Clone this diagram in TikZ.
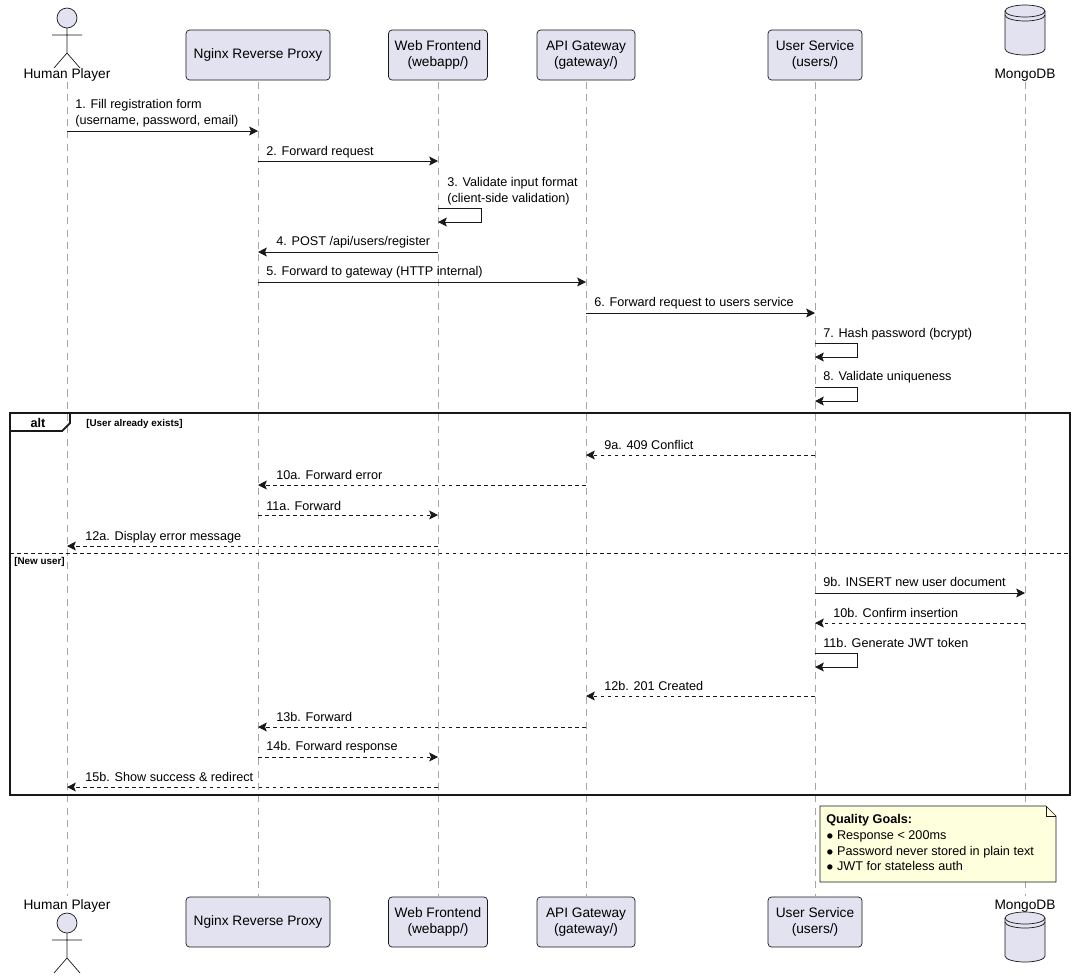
\documentclass[tikz,border=0pt]{standalone}
\usepackage{fontspec}
\setmainfont{Liberation Sans}
\usetikzlibrary{arrows.meta,shapes.geometric,shapes.misc,calc}
\definecolor{partfill}{HTML}{E2E2F0}
\definecolor{partline}{HTML}{181818}
\definecolor{notefill}{HTML}{FEFFDD}
\tikzset{
    tsPart/.style={rectangle, rounded corners=2pt, draw=partline, fill=partfill,
        minimum height=1cm, align=center, font=\fontsize{7.8}{9.5}\selectfont, inner sep=0pt},
    tsLabel/.style={anchor=west, inner sep=0pt, align=left, font=\fontsize{7.2}{9}\selectfont},
    tsSync/.style={draw=partline, -{Stealth[length=5pt,width=5pt,inset=1pt]}},
    tsReply/.style={tsSync, dash pattern=on 2pt off 2pt},
    tsLife/.style={draw=gray!70, dash pattern=on 4pt off 3pt}
}
\newcommand{\actorfig}[2]{%
  \draw[partline, fill=partfill] (#1,#2) circle[radius=0.2cm];
  \draw[partline] (#1,#2+10) -- (#1,#2+35) (#1-15,#2+17) -- (#1+15,#2+17)
     (#1-13,#2+50) -- (#1,#2+35) -- (#1+13,#2+50);}
\newcommand{\dbfig}[2]{%
  \draw[partline, fill=partfill] (#1-20,#2+6) -- (#1-20,#2+44) arc[start angle=180,end angle=360,x radius=0.4cm,y radius=0.12cm]
     -- (#1+20,#2+6) arc[start angle=0,end angle=180,x radius=0.4cm,y radius=0.12cm] -- cycle;
  \draw[partline] (#1-20,#2+6) arc[start angle=180,end angle=360,x radius=0.4cm,y radius=0.12cm]
     (#1-20,#2+10) arc[start angle=180,end angle=360,x radius=0.4cm,y radius=0.12cm];}
\begin{document}
\begin{tikzpicture}[x=0.02cm, y=-0.02cm]
    \useasboundingbox[fill=white] (0,0) rectangle (1075,978);

    % lifelines
    \foreach \lx in {67,258,438,586,815,1025}
        \draw[tsLife] (\lx,82) -- (\lx,896);

    % participants, top and bottom
    \foreach \pos/\suffix in {55/top,922/bot} {
        \node[tsPart, minimum width=2.88cm] (nginx\suffix) at (258,\pos) {Nginx Reverse Proxy};
        \node[tsPart, minimum width=1.98cm] (web\suffix) at (438,\pos) {Web Frontend\\(webapp/)};
        \node[tsPart, minimum width=1.96cm] (api\suffix) at (586,\pos) {API Gateway\\(gateway/)};
        \node[tsPart, minimum width=1.88cm] (user\suffix) at (815,\pos) {User Service\\(users/)};
    }
    \actorfig{67}{18}
    \node[tsLabel, anchor=center, font=\fontsize{7.8}{9.5}\selectfont] (humantop) at (67,75) {Human Player};
    \node[tsLabel, anchor=center, font=\fontsize{7.8}{9.5}\selectfont] (humanbot) at (67,906) {Human Player};
    \actorfig{67}{923}
    \dbfig{1025}{5}
    \node[tsLabel, anchor=center, font=\fontsize{7.8}{9.5}\selectfont] (mongotop) at (1025,75) {MongoDB};
    \node[tsLabel, anchor=center, font=\fontsize{7.8}{9.5}\selectfont] (mongobot) at (1025,906) {MongoDB};
    \dbfig{1025}{912}

    % lifeline anchors
    \coordinate (human) at (67,0);
    \coordinate (nginx) at (258,0);
    \coordinate (web) at (438,0);
    \coordinate (api) at (586,0);
    \coordinate (user) at (815,0);
    \coordinate (mongo) at (1025,0);

    % registration request
    \draw[tsSync] (human|-0,131) -- (nginx|-0,131);
    \node[tsLabel] (m1) at (75,113) {1. Fill registration form\\(username, password, email)};
    \draw[tsSync] (nginx|-0,161) -- (web|-0,161);
    \node[tsLabel] (m2) at (266,152) {2. Forward request};
    \draw[tsSync] (web|-0,208) -- (481,208) -- (481,222) -- (web|-0,222);
    \node[tsLabel] (m3) at (447,191) {3. Validate input format\\(client-side validation)};
    \draw[tsSync] (web|-0,252) -- (nginx|-0,252);
    \node[tsLabel] (m4) at (276,242) {4. POST /api/users/register};
    \draw[tsSync] (nginx|-0,282) -- (api|-0,282);
    \node[tsLabel] (m5) at (266,272) {5. Forward to gateway (HTTP internal)};
    \draw[tsSync] (api|-0,313) -- (user|-0,313);
    \node[tsLabel] (m6) at (594,303) {6. Forward request to users service};
    \draw[tsSync] (user|-0,343) -- (857,343) -- (857,357) -- (user|-0,357);
    \node[tsLabel] (m7) at (823,334) {7. Hash password (bcrypt)};
    \draw[tsSync] (user|-0,387) -- (857,387) -- (857,401) -- (user|-0,401);
    \node[tsLabel] (m8) at (823,377) {8. Validate uniqueness};

    % alt frame
    \draw[partline, line width=1.2pt] (10,413) rectangle (1070,795);
    \draw[partline, line width=1pt] (10,431) -- (62,431) -- (70,423) -- (70,413);
    \node[font=\bfseries\fontsize{7.2}{9}\selectfont, inner sep=0pt] (alttag) at (38,423) {alt};
    \node[tsLabel, font=\bfseries\fontsize{5.6}{7}\selectfont] (guard1) at (86,424) {[User already exists]};
    \draw[partline, dash pattern=on 2pt off 2pt] (10,553) -- (1070,553);
    \node[tsLabel, font=\bfseries\fontsize{5.6}{7}\selectfont] (guard2) at (14,562) {[New user]};

    % user already exists
    \draw[tsReply] (user|-0,455) -- (api|-0,455);
    \node[tsLabel] (m9a) at (604,445) {9a. 409 Conflict};
    \draw[tsReply] (api|-0,485) -- (nginx|-0,485);
    \node[tsLabel] (m10a) at (276,475) {10a. Forward error};
    \draw[tsReply] (nginx|-0,515) -- (web|-0,515);
    \node[tsLabel] (m11a) at (266,506) {11a. Forward};
    \draw[tsReply] (web|-0,546) -- (human|-0,546);
    \node[tsLabel] (m12a) at (85,537) {12a. Display error message};

    % new user
    \draw[tsSync] (user|-0,593) -- (mongo|-0,593);
    \node[tsLabel] (m9b) at (823,582) {9b. INSERT new user document};
    \draw[tsReply] (mongo|-0,623) -- (user|-0,623);
    \node[tsLabel] (m10b) at (833,613) {10b. Confirm insertion};
    \draw[tsSync] (user|-0,653) -- (857,653) -- (857,667) -- (user|-0,667);
    \node[tsLabel] (m11b) at (823,643) {11b. Generate JWT token};
    \draw[tsReply] (user|-0,696) -- (api|-0,696);
    \node[tsLabel] (m12b) at (604,686) {12b. 201 Created};
    \draw[tsReply] (api|-0,727) -- (nginx|-0,727);
    \node[tsLabel] (m13b) at (276,717) {13b. Forward};
    \draw[tsReply] (nginx|-0,757) -- (web|-0,757);
    \node[tsLabel] (m14b) at (266,747) {14b. Forward response};
    \draw[tsReply] (web|-0,787) -- (human|-0,787);
    \node[tsLabel] (m15b) at (85,777) {15b. Show success \& redirect};

    % note
    \draw[partline, fill=notefill] (820,806) -- (1046,806) -- (1056,816) -- (1056,882) -- (820,882) -- cycle;
    \draw[partline] (1046,806) -- (1046,816) -- (1056,816);
    \node[tsLabel, anchor=north west, font=\fontsize{7.2}{9}\selectfont] (goals) at (826,814)
        {\textbf{Quality Goals:}\\$\bullet$ Response < 200ms\\$\bullet$ Password never stored in plain text\\$\bullet$ JWT for stateless auth};
\end{tikzpicture}
\end{document}
